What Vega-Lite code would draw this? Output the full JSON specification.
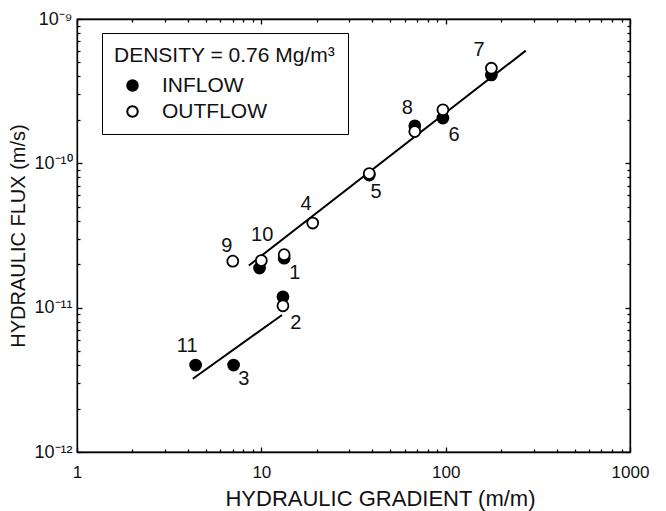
{
  "$schema": "https://vega.github.io/schema/vega-lite/v6.json",
  "width": 553,
  "height": 433,
  "autosize": "none",
  "padding": {"left": 77, "top": 19, "right": 36, "bottom": 59},
  "background": "white",
  "config": {
    "font": "Liberation Sans",
    "view": {"stroke": "black", "strokeWidth": 1.3},
    "axis": {"domainColor": "black", "domainWidth": 1.3, "tickColor": "black", "labelColor": "#111", "titleColor": "#111", "grid": false, "labelOverlap": false, "labelBound": false, "labelFlush": false, "tickWidth": 1.3}
  },
  "resolve": {"axis": {"x": "independent", "y": "independent"}},
  "datasets": {
    "pts": [
      {"flow": "INFLOW", "id": "1", "g": 13.3, "q": 2.2e-11},
      {"flow": "INFLOW", "id": "2", "g": 13.1, "q": 1.19e-11},
      {"flow": "INFLOW", "id": "3", "g": 7.07, "q": 4.0e-12},
      {"flow": "INFLOW", "id": "5", "g": 38.5, "q": 8.3e-11},
      {"flow": "INFLOW", "id": "6", "g": 96.6, "q": 2.06e-10},
      {"flow": "INFLOW", "id": "7", "g": 177, "q": 4.1e-10},
      {"flow": "INFLOW", "id": "8", "g": 68, "q": 1.82e-10},
      {"flow": "INFLOW", "id": "10", "g": 9.78, "q": 1.88e-11},
      {"flow": "INFLOW", "id": "11", "g": 4.4, "q": 4.0e-12},
      {"flow": "OUTFLOW", "id": "1", "g": 13.3, "q": 2.33e-11},
      {"flow": "OUTFLOW", "id": "2", "g": 13.1, "q": 1.03e-11},
      {"flow": "OUTFLOW", "id": "4", "g": 19.0, "q": 3.86e-11},
      {"flow": "OUTFLOW", "id": "5", "g": 38.5, "q": 8.5e-11},
      {"flow": "OUTFLOW", "id": "6", "g": 96.6, "q": 2.35e-10},
      {"flow": "OUTFLOW", "id": "7", "g": 177, "q": 4.56e-10},
      {"flow": "OUTFLOW", "id": "8", "g": 68, "q": 1.66e-10},
      {"flow": "OUTFLOW", "id": "9", "g": 7.0, "q": 2.1e-11},
      {"flow": "OUTFLOW", "id": "10", "g": 10.0, "q": 2.12e-11}
    ],
    "fits": [
      {"fit": "upper", "g": 8.56, "q": 1.96e-11},
      {"fit": "upper", "g": 272, "q": 6.04e-10},
      {"fit": "lower", "g": 4.25, "q": 3.22e-12},
      {"fit": "lower", "g": 12.95, "q": 8.9e-12}
    ],
    "labels": [
      {"t": "7", "g": 152, "q": 6.1e-10},
      {"t": "8", "g": 62, "q": 2.41e-10},
      {"t": "6", "g": 111, "q": 1.58e-10},
      {"t": "5", "g": 41.9, "q": 6.29e-11},
      {"t": "4", "g": 17.5, "q": 5.25e-11},
      {"t": "10", "g": 10.1, "q": 3.2e-11},
      {"t": "9", "g": 6.49, "q": 2.66e-11},
      {"t": "1", "g": 15.2, "q": 1.74e-11},
      {"t": "2", "g": 15.4, "q": 7.85e-12},
      {"t": "11", "g": 3.96, "q": 5.4e-12},
      {"t": "3", "g": 8.03, "q": 3.18e-12}
    ]
  },
  "layer": [
    {
      "data": {"name": "fits"},
      "mark": {"type": "line", "color": "black", "strokeWidth": 2},
      "encoding": {
        "x": {"field": "g", "type": "quantitative", "scale": {"type": "log", "domain": [1, 1000], "nice": false},
          "axis": {"orient": "bottom", "title": "HYDRAULIC GRADIENT (m/m)", "titleFontSize": 22, "titleFontWeight": "normal", "titlePadding": 6, "titleX": 303,
            "values": [1,2,3,4,5,6,7,8,9,10,20,30,40,50,60,70,80,90,100,200,300,400,500,600,700,800,900,1000],
            "labelExpr": "abs(log(datum.value)/LN10 - round(log(datum.value)/LN10)) < 1e-6 ? format(datum.value, 'd') : ''",
            "labelFontSize": 17, "labelPadding": 17,
            "tickSize": {"condition": {"test": "abs(log(datum.value)/LN10 - round(log(datum.value)/LN10)) < 1e-6", "value": -5}, "value": -3}}},
        "y": {"field": "q", "type": "quantitative", "scale": {"type": "log", "domain": [1e-12, 1e-9], "nice": false},
          "axis": {"orient": "left", "title": "HYDRAULIC FLUX (m/s)", "titleFontSize": 20, "titleFontWeight": "normal", "titlePadding": 5,
            "values": [1e-12,2e-12,3e-12,4e-12,5e-12,6e-12,7e-12,8e-12,9e-12,1e-11,2e-11,3e-11,4e-11,5e-11,6e-11,7e-11,8e-11,9e-11,1e-10,2e-10,3e-10,4e-10,5e-10,6e-10,7e-10,8e-10,9e-10,1e-9],
            "labelExpr": "abs(log(datum.value)/LN10 - round(log(datum.value)/LN10)) < 1e-6 ? (round(log(datum.value)/LN10) == -9 ? '10⁻⁹' : round(log(datum.value)/LN10) == -10 ? '10⁻¹⁰' : round(log(datum.value)/LN10) == -11 ? '10⁻¹¹' : '10⁻¹²') : ''",
            "labelFontSize": 18, "labelPadding": 10,
            "tickSize": {"condition": {"test": "abs(log(datum.value)/LN10 - round(log(datum.value)/LN10)) < 1e-6", "value": -5}, "value": -3}}},
        "detail": {"field": "fit"}
      }
    },
    {
      "data": {"name": "pts"},
      "mark": {"type": "point", "shape": "circle", "filled": true, "stroke": "black", "strokeWidth": 1.8, "size": 120, "opacity": 1},
      "encoding": {
        "x": {"field": "g", "type": "quantitative", "axis": null},
        "y": {"field": "q", "type": "quantitative", "axis": null},
        "fill": {"field": "flow", "type": "nominal", "scale": {"domain": ["INFLOW", "OUTFLOW"], "range": ["black", "white"]},
          "legend": {"title": "DENSITY = 0.76 Mg/m³", "titleLimit": 500, "orient": "none", "legendX": 25, "legendY": 14, "strokeColor": "black", "fillColor": "white", "padding": 12,
            "titleFontSize": 21, "titleFontWeight": "normal", "titleColor": "#111", "labelFontSize": 21, "labelColor": "#111",
            "symbolType": "circle", "symbolSize": 110, "symbolStrokeColor": "black", "symbolStrokeWidth": 2, "symbolOffset": 8, "labelOffset": 19, "rowPadding": 4, "titlePadding": 9}}
      }
    },
    {
      "data": {"name": "labels"},
      "mark": {"type": "text", "fontSize": 20, "color": "#111", "align": "center", "baseline": "middle"},
      "encoding": {
        "x": {"field": "g", "type": "quantitative",
          "axis": {"orient": "top", "title": null, "labels": false,
            "values": [1,2,3,4,5,6,7,8,9,10,20,30,40,50,60,70,80,90,100,200,300,400,500,600,700,800,900,1000],
            "tickSize": {"condition": {"test": "abs(log(datum.value)/LN10 - round(log(datum.value)/LN10)) < 1e-6", "value": -5}, "value": -3}}},
        "y": {"field": "q", "type": "quantitative",
          "axis": {"orient": "right", "title": null, "labels": false,
            "values": [1e-12,2e-12,3e-12,4e-12,5e-12,6e-12,7e-12,8e-12,9e-12,1e-11,2e-11,3e-11,4e-11,5e-11,6e-11,7e-11,8e-11,9e-11,1e-10,2e-10,3e-10,4e-10,5e-10,6e-10,7e-10,8e-10,9e-10,1e-9],
            "tickSize": {"condition": {"test": "abs(log(datum.value)/LN10 - round(log(datum.value)/LN10)) < 1e-6", "value": -5}, "value": -3}}},
        "text": {"field": "t"}
      }
    }
  ]
}
